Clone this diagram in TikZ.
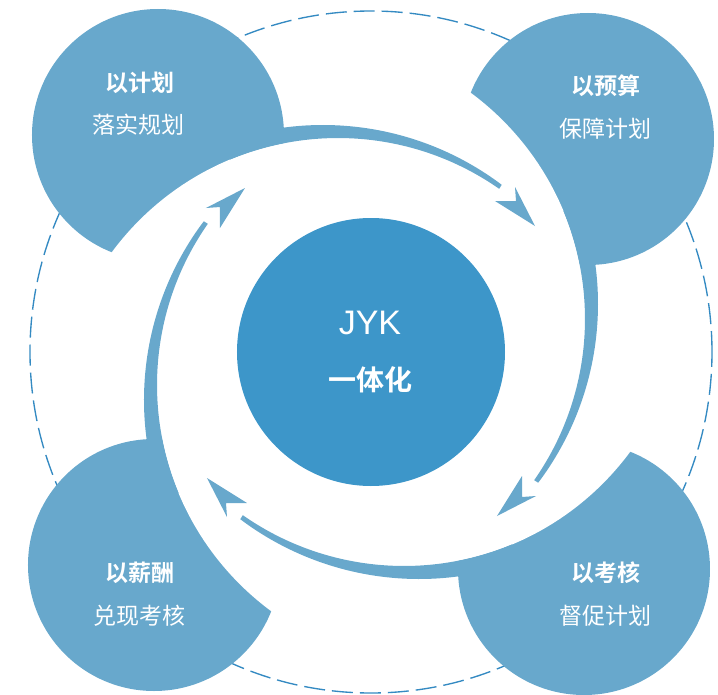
\documentclass[tikz,border=0pt]{standalone}
\usepackage{fontspec}
\setmainfont{Liberation Sans}
\newfontfamily\cjk[BoldFont={Noto Sans CJK SC Bold}]{Noto Sans CJK SC}
\usetikzlibrary{calc}
\definecolor{petalc}{RGB}{104,168,204}
\definecolor{hubc}{RGB}{61,150,201}
\definecolor{dashc}{RGB}{52,138,194}
\tikzset{
  petal/.style={circle, fill=petalc, minimum size=252pt, inner sep=0pt},
  title/.style={text=white, font=\cjk\bfseries\fontsize{23}{26}\selectfont},
  sub/.style={text=white, font=\cjk\fontsize{23}{26}\selectfont},
  band/.style={fill=petalc},
}
\begin{document}
\begin{tikzpicture}[x=1pt,y=1pt]
\useasboundingbox (-371,-342) rectangle (347,352);
\draw[dashc, line width=1.35pt, dash pattern=on 21pt off 7pt] (0,0) circle (341pt);
% petals with white cuts
\foreach \a/\n in {0/p1,-90/p2,180/p3,90/p4}{
  \begin{scope}[rotate=\a]
    \node[petal] (\n) at (-213,217) {};
    \begin{scope}
      \clip (-213,217) circle (127.5pt);
      \fill[white] (-33,-67) circle (281pt);
    \end{scope}
  \end{scope}
}
% curved arrows
\foreach \a in {0,-90,180,90}{
  \begin{scope}[rotate=\a]
    \fill[band] ($(-48,-70)+(108:297pt)$) arc[start angle=108, end angle=53, radius=297pt]
      -- ($(-33,-67)+(55:281pt)$) arc[start angle=55, end angle=112.6, radius=281pt] -- cycle;
    \fill[band] (164,126) -- (144,165) -- (145,151) -- (124,151) -- cycle;
  \end{scope}
}
% hub
\node[circle, fill=hubc, minimum size=268pt, inner sep=0pt] (hub) at (0,0) {};
\node[text=white, font=\fontsize{34}{38}\selectfont] (hubt) at (-1,29.5) {JYK};
\node[text=white, font=\cjk\bfseries\fontsize{28}{32}\selectfont] (hubs) at (0,-28) {一体化};
% petal texts
\node[title] (t1) at (-231,269) {以计划};
\node[sub] (s1) at (-232,227) {落实规划};
\node[title] (t2) at (235,266) {以预算};
\node[sub] (s2) at (234.5,223) {保障计划};
\node[title] (t3) at (-231,-221) {以薪酬};
\node[sub] (s3) at (-231.5,-264) {兑现考核};
\node[title] (t4) at (235,-221) {以考核};
\node[sub] (s4) at (234.5,-264) {督促计划};
\end{tikzpicture}
\end{document}
